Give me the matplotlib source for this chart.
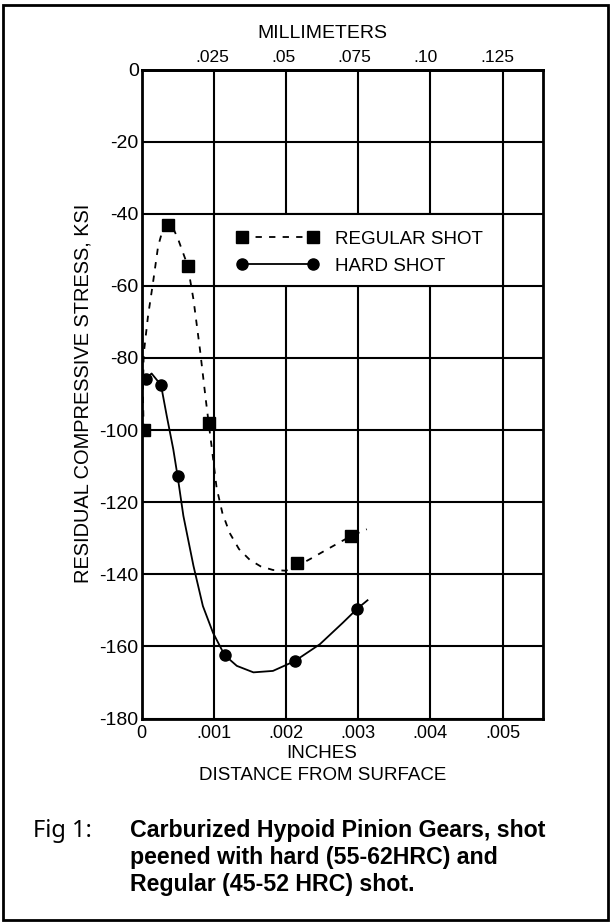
import matplotlib
matplotlib.use('Agg')
import matplotlib.pyplot as plt
from matplotlib.lines import Line2D
from matplotlib.patches import Rectangle

plt.rcParams['font.family'] = ['Liberation Sans', 'DejaVu Sans']
plt.rcParams['axes.unicode_minus'] = False

# measured points: depth (inches) vs residual stress (ksi)
regular_x = [0.00003, 0.00037, 0.00064, 0.00093, 0.00215, 0.0029]
regular_y = [-100, -43, -54.5, -98, -137, -129.5]
hard_x = [0.00006, 0.00027, 0.0005, 0.00115, 0.00212, 0.00299]
hard_y = [-85.7, -87.5, -112.8, -162.4, -164.1, -149.5]

# hand drawn fit curves
regular_curve_x = [0.00003, 0.00002, 0.00003, 0.00009, 0.00016, 0.00023, 0.0003, 0.00037,
                   0.00045, 0.00051, 0.00064, 0.00072, 0.00081, 0.00089, 0.00093, 0.00098,
                   0.00104, 0.00112, 0.00122, 0.00135, 0.0015, 0.00165, 0.00182, 0.002,
                   0.00215, 0.00235, 0.00256, 0.0029, 0.00312]
regular_curve_y = [-100, -90, -79, -68.4, -59, -49, -44, -42.8,
                   -44.5, -47.2, -54.4, -63.8, -77.7, -91.5, -98, -106,
                   -116, -123, -128.5, -133, -136, -137.8, -138.8, -139,
                   -137.8, -135.6, -133.2, -129.4, -127.5]
hard_curve_x = [0.00006, 0.00014, 0.00027, 0.00035, 0.00044, 0.0005, 0.00058, 0.00072,
                0.00085, 0.00099, 0.00115, 0.00132, 0.00155, 0.00182, 0.00212, 0.00247,
                0.00279, 0.00299, 0.00313]
hard_curve_y = [-85.7, -84.3, -87.5, -96.1, -105.3, -112.8, -123.8, -137.7,
                -148.8, -156.2, -162.4, -165.4, -167.2, -166.8, -164.1, -159.4,
                -153.4, -149.5, -147.2]

x_ticks = [0, 0.001, 0.002, 0.003, 0.004, 0.005]
x_labels = ['0', '.001', '.002', '.003', '.004', '.005']
y_ticks = [0, -20, -40, -60, -80, -100, -120, -140, -160, -180]
y_labels = ['0', '-20', '-40', '-60', '-80', '-100', '-120', '-140', '-160', '-180']
mm_ticks = [0.025, 0.05, 0.075, 0.10, 0.125]
mm_labels = ['.025', '.05', '.075', '.10', '.125']

W, H = 610, 924
fig = plt.figure(figsize=(W / 100, H / 100), dpi=100)
ax = fig.add_axes([141.5 / W, 1 - 718.5 / H, (543 - 141.5) / W, (718.5 - 69.6) / H])

ax.set_xlim(0, 0.00556)
ax.set_ylim(-180, 0)
ax.set_xticks(x_ticks, labels=x_labels)
ax.set_yticks(y_ticks, labels=y_labels)
ax.tick_params(length=0)
ax.tick_params(axis='x', pad=5, labelsize=13)
ax.tick_params(axis='y', pad=2, labelsize=14)
ax.set_axisbelow(True)
ax.grid(True, color='black', lw=1.5)
for s in ax.spines.values():
    s.set_linewidth(2)

# legend sits in a white cell of the grid
ax.add_patch(Rectangle((0.001, -60), 0.004, 20, facecolor='white', edgecolor='black',
                       lw=1.5, zorder=1))

dash = (0, (3.5, 4))
ax.plot(regular_curve_x, regular_curve_y, color='black', lw=1.3, ls=dash, zorder=3)
ax.plot(hard_curve_x, hard_curve_y, color='black', lw=1.3, zorder=3)
ax.plot(regular_x, regular_y, ls='none', marker='s', ms=8, color='black', zorder=4)
ax.plot(hard_x, hard_y, ls='none', marker='o', ms=8, color='black', zorder=4)

handles = [Line2D([], [], color='black', lw=1.3, ls=dash, marker='s', ms=8),
           Line2D([], [], color='black', lw=1.3, marker='o', ms=8)]
ax.legend(handles, ['REGULAR SHOT', 'HARD SHOT'], loc='center left',
          bbox_to_anchor=(0.001308, -50.8), bbox_transform=ax.transData,
          frameon=False, fontsize=13.5, numpoints=2, handlelength=4.4,
          handletextpad=0.88, labelspacing=0.5, borderpad=0, borderaxespad=0)

sec = ax.secondary_xaxis('top', functions=(lambda x: x * 25.4, lambda x: x / 25.4))
sec.set_xticks(mm_ticks, labels=mm_labels)
sec.tick_params(length=0, labelsize=12.5, pad=3.5)
sec.spines['top'].set_linewidth(2)

fig.text(322 / W, 1 - 33 / H, 'MILLIMETERS', ha='center', va='center', fontsize=14)
fig.text(322 / W, 1 - 753 / H, 'INCHES', ha='center', va='center', fontsize=13.5)
fig.text(323 / W, 1 - 775 / H, 'DISTANCE FROM SURFACE', ha='center', va='center', fontsize=13.5)
fig.text(83 / W, 1 - 393.5 / H, 'RESIDUAL COMPRESSIVE STRESS, KSI', rotation=90,
         ha='center', va='center', fontsize=14.4)

fig.text(33 / W, 1 - 831 / H, 'Fig 1:', ha='left', va='center', fontsize=17,
         family=['Noto Sans', 'DejaVu Sans'])
caption = ['Carburized Hypoid Pinion Gears, shot',
           'peened with hard (55-62HRC) and',
           'Regular (45-52 HRC) shot.']
for i, line in enumerate(caption):
    fig.text(130 / W, 1 - (831 + 26.5 * i) / H, line, ha='left', va='center',
             fontsize=16.7, fontweight='bold')

# outer frame of the figure
fig.add_artist(Rectangle((3 / W, 1 - 920 / H), 605 / W, 915 / H, transform=fig.transFigure,
                         fill=False, edgecolor='black', lw=2))

fig.savefig('out.png', dpi=100)
